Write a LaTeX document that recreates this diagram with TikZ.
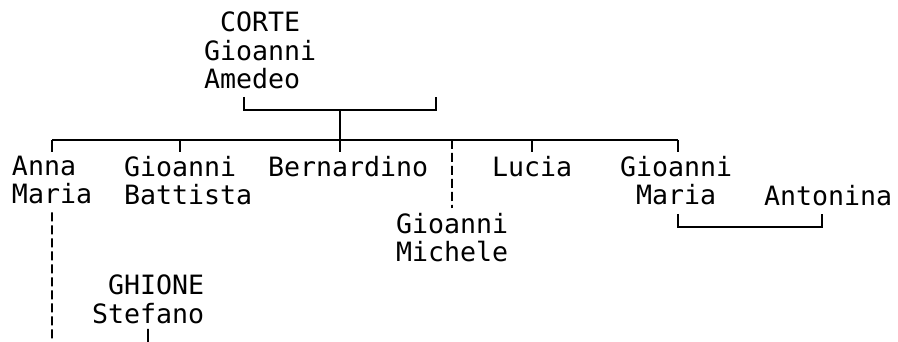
\documentclass[tikz,border=0pt]{standalone}
\usepackage{fontspec}
\setmonofont{DejaVu Sans Mono}
\usetikzlibrary{positioning}
\newcommand{\colsp}{\hphantom{0}}

\begin{document}
\begin{tikzpicture}[
    x=1pt, y=-1pt,
    every node/.style={font=\ttfamily\fontsize{26.6}{28.5}\selectfont, inner sep=0pt, outer sep=0pt,
        align=left, anchor=north west, execute at begin node=\strut, execute at end node=\strut},
    line/.style={line width=1.8pt, black},
    dashline/.style={line width=1.8pt, black, dash pattern=on 9pt off 4pt}
]
\useasboundingbox (0,0) rectangle (898,342);

% parents
\node (corte) at (204,12) {\colsp CORTE\\Gioanni\\Amedeo};

% children
\node (annamaria)  at (12,156)  {Anna\\Maria};
\node (gbattista)  at (124,156) {Gioanni\\Battista};
\node (bernardino) at (268,156) {Bernardino};
\node (lucia)      at (492,156) {Lucia};
\node (gmaria)     at (620,156) {Gioanni\\\colsp Maria};
\node (antonina)   at (764,185) {Antonina};
\node (gmichele)   at (396,213) {Gioanni\\Michele};

% next generation
\node (ghione) at (92,275) {\colsp GHIONE\\Stefano};

% marriage of the parents
\coordinate (cortemarL) at (244,97);
\coordinate (cortemarR) at (436,97);
\coordinate (topbar) at (340,110);
\draw[line] (cortemarL) |- (topbar) -| (cortemarR);

% bar of the children
\coordinate (kidsbar) at (340,140);
\coordinate (barL) at (52,140);
\coordinate (barR) at (678,140);
\coordinate (tickB) at (180,140);
\coordinate (tickL) at (532,140);
\coordinate (tickM) at (452,140);
\draw[line] (topbar) -- (kidsbar);
\draw[line] (barL) -- (barR);
\draw[line] (barL) -- ++(0,12);
\draw[line] (tickB) -- ++(0,12);
\draw[line] (kidsbar) -- ++(0,12);
\draw[line] (tickL) -- ++(0,12);
\draw[line] (barR) -- ++(0,12);
\draw[dashline] (tickM) -- ([yshift=5pt]gmichele.north);

% marriage of Gioanni Maria
\coordinate (gmmarL) at (678,214);
\coordinate (gmmarR) at (822,214);
\draw[line] (gmmarL) -- ++(0,13) -| (gmmarR);

% lines running down
\coordinate (annaend) at (52,342);
\coordinate (stefend) at (148,342);
\draw[dashline] (annamaria.south) -- (annaend);
\draw[line] ([yshift=3pt]ghione.south) -- (stefend);
\end{tikzpicture}
\end{document}
